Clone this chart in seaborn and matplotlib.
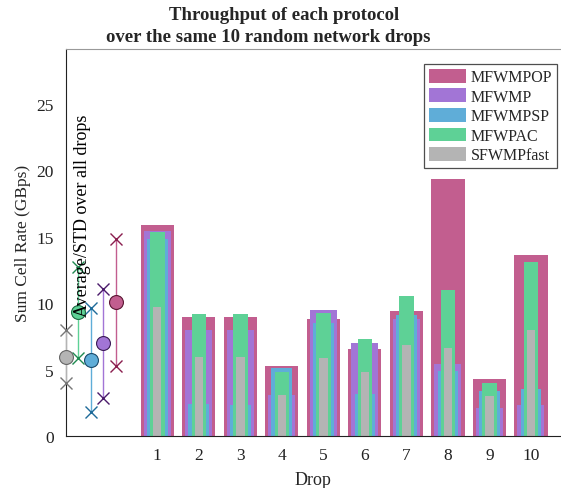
import numpy as np
import pandas as pd
import matplotlib
matplotlib.use("Agg")
import matplotlib.pyplot as plt
import matplotlib.patches as mpatches
import seaborn as sns

# ---- data ----
drops = [1, 2, 3, 4, 5, 6, 7, 8, 9, 10]
protocols = ["MFWMPOP", "MFWMP", "MFWMPSP", "MFWPAC", "SFWMPfast"]
mfwmpop = [15.84, 8.96, 8.96, 5.23, 8.78, 6.53, 9.37, 19.34, 4.28, 13.61]
mfwmp = [15.41, 7.96, 7.96, 3.10, 9.46, 6.98, 8.78, 5.38, 2.08, 2.35]
mfwmpsp = [14.79, 2.40, 2.35, 5.08, 8.46, 3.13, 9.10, 4.86, 3.40, 3.55]
mfwpac = [15.34, 9.21, 9.21, 4.78, 9.28, 7.28, 10.53, 10.96, 3.98, 13.06]
sfwmpfast = [9.71, 5.96, 5.96, 3.10, 5.86, 4.78, 6.86, 6.60, 2.98, 7.96]
avg_vals = [10.05, 6.96, 5.70, 9.30, 5.95]
std_vals = [4.80, 4.10, 3.90, 3.40, 2.00]
yticks = [0, 5, 10, 15, 20, 25]

series = [mfwmpop, mfwmp, mfwmpsp, mfwpac, sfwmpfast]
colors = ["#C25E8F", "#A275D6", "#5FADD8", "#5ED196", "#B4B4B4"]
dark = ["#8A1E4E", "#4A1A6A", "#1E6A99", "#1E8A50", "#777777"]
edge = ["#5A1632", "#3A1A55", "#1A4A6A", "#1A6A40", "#666666"]
widths = [0.8, 0.65, 0.5, 0.35, 0.2]
sum_x = [0.0, -0.3, -0.6, -0.9, -1.2]

sns.set_theme(style="white")
plt.rcParams["font.family"] = ["Liberation Serif", "DejaVu Serif"]

fig = plt.figure(figsize=(5.61, 4.89), dpi=100)
ax = fig.add_axes([66 / 561, 1 - 437 / 489, (560 - 66) / 561, (437 - 50) / 489])

for vals, col, w in zip(series, colors, widths):
    df = pd.DataFrame({"drop": drops, "val": vals})
    sns.barplot(data=df, x="drop", y="val", native_scale=True, width=w,
                color=col, saturation=1, ax=ax, errorbar=None, linewidth=0,
                zorder=2)

# summary markers (mean / +-std)
for i in range(len(protocols))[::-1]:
    x = sum_x[i]
    m, s = avg_vals[i], std_vals[i]
    ax.plot([x, x], [m - s, m + s], color=colors[i], lw=1.0, zorder=3,
            clip_on=False)
    ax.plot([x, x], [m - s, m + s], ls="none", marker="x", ms=8.5, mew=1.0,
            color=dark[i], zorder=4, clip_on=False)
    ax.plot([x], [m], ls="none", marker="o", ms=10, mfc=colors[i],
            mec=edge[i], mew=0.8, zorder=5, clip_on=False)

ax.text(-0.8, 9.0, "Average/STD over all drops", rotation=90,
        ha="center", va="bottom", fontsize=13, color="black", zorder=6)

ax.set_xlim(-1.2, 10.7)
ax.set_ylim(0, 29.1)
ax.set_xticks(drops)
ax.set_xticklabels([str(d) for d in drops])
ax.set_yticks(yticks)
ax.set_yticklabels([str(t) for t in yticks])
ax.tick_params(axis="both", direction="in", length=4, width=0.8,
               labelsize=12.5, colors="#222222", pad=9)
ax.tick_params(axis="x", length=0, pad=8)
ax.set_xlabel("Drop", fontsize=13, labelpad=6)
ax.set_ylabel("Sum Cell Rate (GBps)", fontsize=12.5, labelpad=4)

fig.text(284 / 561, 1 - 16 / 489, "Throughput of each protocol",
         ha="center", va="center", fontsize=13.5, fontweight="bold")
fig.text(268 / 561, 1 - 37 / 489, "over the same 10 random network drops",
         ha="center", va="center", fontsize=13.5, fontweight="bold")

for side in ["left", "bottom", "top"]:
    ax.spines[side].set_visible(True)
    ax.spines[side].set_color("#222222")
    ax.spines[side].set_linewidth(0.8)
ax.spines["top"].set_color("#999999")
ax.spines["right"].set_visible(False)

handles = [mpatches.Patch(facecolor=c, edgecolor="none", label=p)
           for p, c in zip(protocols, colors)]
leg = ax.legend(handles=handles, loc="upper right",
                bbox_to_anchor=(557 / 561, 1 - 65 / 489),
                bbox_transform=fig.transFigure, borderaxespad=0,
                fontsize=11.5, frameon=True, fancybox=False,
                handlelength=2.3, handleheight=0.95, labelspacing=0.2,
                handletextpad=0.3, borderpad=0.3)
leg.get_frame().set_edgecolor("#222222")
leg.get_frame().set_linewidth(0.9)

fig.savefig("out.png", dpi=100)
